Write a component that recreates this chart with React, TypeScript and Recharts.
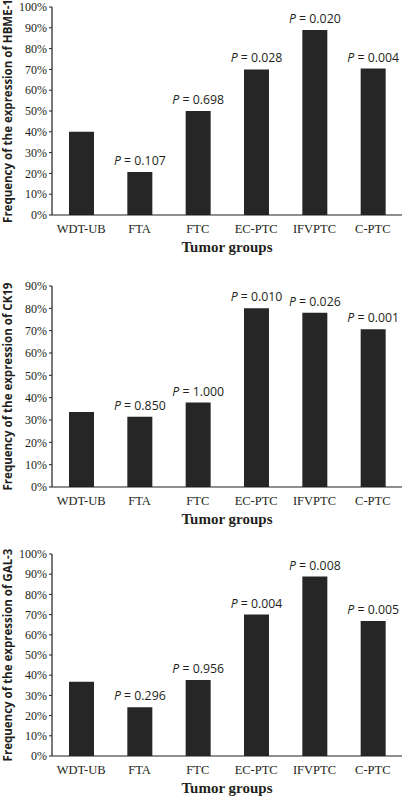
import { BarChart, Bar, XAxis, YAxis, LabelList, Label } from "recharts";

const groups = ["WDT-UB", "FTA", "FTC", "EC-PTC", "IFVPTC", "C-PTC"];

const hbme1 = [40, 20.7, 50, 70, 89, 70.4];
const hbme1P = ["", "0.107", "0.698", "0.028", "0.020", "0.004"];

const ck19 = [33.6, 31.4, 37.8, 80, 78, 70.6];
const ck19P = ["", "0.850", "1.000", "0.010", "0.026", "0.001"];

const gal3 = [36.7, 24.1, 37.6, 70, 88.8, 66.8];
const gal3P = ["", "0.296", "0.956", "0.004", "0.008", "0.005"];

const ticks100 = [0, 10, 20, 30, 40, 50, 60, 70, 80, 90, 100];
const ticks90 = [0, 10, 20, 30, 40, 50, 60, 70, 80, 90];

const INK = "#231f20";
const BAR = "#262626";

const PLabel = (props: any) => {
  const { x, y, width, value } = props;
  if (!value) return null;
  return (
    <text
      x={x + width / 2}
      y={y - 7}
      textAnchor="middle"
      fontFamily="'Open Sans', sans-serif"
      fontSize={12.3}
      fill={INK}
    >
      <tspan fontStyle="italic">P</tspan> = {value}
    </text>
  );
};

interface PanelProps {
  top: number;
  height: number;
  marginTop: number;
  values: number[];
  pvals: string[];
  ticks: number[];
  marker: string;
}

function Panel({ top, height, marginTop, values, pvals, ticks, marker }: PanelProps) {
  const data = groups.map((g, i) => ({ group: g, value: values[i], p: pvals[i] }));
  return (
    <div style={{ position: "absolute", left: 0, top, width: 412, height }}>
      <BarChart
        width={412}
        height={height}
        data={data}
        margin={{ top: marginTop, right: 10, bottom: 0, left: 0 }}
      >
        <XAxis
          dataKey="group"
          height={41}
          tickLine={false}
          tickMargin={3}
          axisLine={{ stroke: INK, strokeWidth: 1.2 }}
          tick={{ fontFamily: "'Liberation Serif', serif", fontSize: 12.5, fill: INK }}
          interval={0}
        >
          <Label
            value="Tumor groups"
            position="insideBottom"
            offset={4}
            style={{ fontFamily: "'Liberation Serif', serif", fontSize: 15, fontWeight: "bold", fill: INK }}
          />
        </XAxis>
        <YAxis
          width={52}
          domain={[0, ticks[ticks.length - 1]]}
          ticks={ticks}
          interval={0}
          tickSize={3}
          tickMargin={2}
          tickFormatter={(v: number) => `${v}%`}
          tickLine={{ stroke: INK }}
          axisLine={{ stroke: INK, strokeWidth: 1.2 }}
          tick={{ fontFamily: "'Liberation Serif', serif", fontSize: 12, fill: INK }}
        >
          <Label
            value={`Frequency of the expression of ${marker}`}
            angle={-90}
            position="insideLeft"
            offset={8}
            style={{ textAnchor: "middle", fontFamily: "'Open Sans', sans-serif", fontSize: 11.5, fontWeight: "bold", fill: INK }}
          />
        </YAxis>
        <Bar dataKey="value" fill={BAR} barSize={25} isAnimationActive={false}>
          <LabelList dataKey="p" content={PLabel} />
        </Bar>
      </BarChart>
    </div>
  );
}

export default function App() {
  return (
    <div style={{ position: "absolute", left: 0, top: 0, width: 412, height: 797, background: "#fff" }}>
      <Panel top={0} height={256} marginTop={7} values={hbme1} pvals={hbme1P} ticks={ticks100} marker="HBME-1" />
      <Panel top={256} height={272} marginTop={30} values={ck19} pvals={ck19P} ticks={ticks90} marker="CK19" />
      <Panel top={528} height={269} marginTop={26} values={gal3} pvals={gal3P} ticks={ticks100} marker="GAL-3" />
    </div>
  );
}
